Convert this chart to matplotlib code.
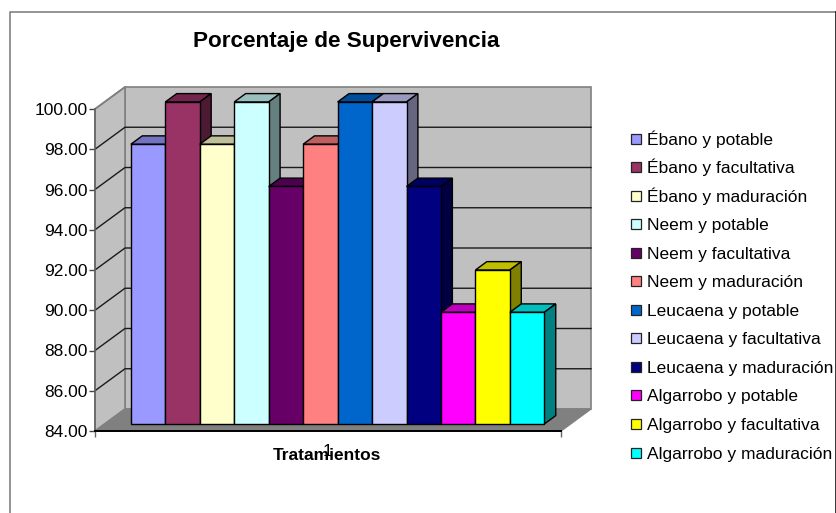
import matplotlib
matplotlib.use("Agg")
import matplotlib.pyplot as plt
from matplotlib.lines import Line2D
from matplotlib.patches import Polygon, Rectangle
from matplotlib.colors import to_rgb

plt.rcParams['font.family'] = ['Liberation Sans', 'DejaVu Sans']

treatments = ["Ébano y potable", "Ébano y facultativa", "Ébano y maduración",
              "Neem y potable", "Neem y facultativa", "Neem y maduración",
              "Leucaena y potable", "Leucaena y facultativa", "Leucaena y maduración",
              "Algarrobo y potable", "Algarrobo y facultativa", "Algarrobo y maduración"]
survival = [97.9, 100.0, 97.9, 100.0, 95.8, 97.9, 100.0, 100.0, 95.8, 89.55, 91.65, 89.55]
colors = ["#9999FF", "#993366", "#FFFFCC", "#CCFFFF", "#660066", "#FF8080",
          "#0066CC", "#CCCCFF", "#000080", "#FF00FF", "#FFFF00", "#00FFFF"]
yticks = [84, 86, 88, 90, 92, 94, 96, 98, 100]
title = "Porcentaje de Supervivencia"
xlabel = "Tratamientos"
category = "1"

W, H = 837, 513
fig = plt.figure(figsize=(W / 100, H / 100), dpi=100, facecolor="white")
L, R, T, B = 95, 561, 109, 431
ax = fig.add_axes([L / W, 1 - B / H, (R - L) / W, (B - T) / H])
ax.patch.set_visible(False)
margin = 0.762
ax.set_xlim(-margin, len(survival) + margin)
ax.set_ylim(84, 100)

px_x = (R - L) / (len(survival) + 2 * margin)
px_y = (B - T) / 16
DX = 30 / px_x   # full chart depth, data units
DY = 22 / px_y
x0, x1 = ax.get_xlim()
yb, yt = ax.get_ylim()
d_front = 0.32
d_back = 0.70


def dark(c, f):
    return tuple(v * f for v in to_rgb(c))


def poly(pts, fc, ec="black", lw=1.0, z=2):
    ax.add_patch(Polygon(pts, closed=True, facecolor=fc, edgecolor=ec, linewidth=lw,
                         zorder=z, clip_on=False, joinstyle="miter"))


# walls and floor
poly([(x0 + DX, yb + DY), (x1 + DX, yb + DY), (x1 + DX, yt + DY), (x0 + DX, yt + DY)],
     "#C0C0C0", "#808080", 1.2, 1)
poly([(x0, yb), (x0 + DX, yb + DY), (x0 + DX, yt + DY), (x0, yt)], "#C0C0C0", "#808080", 1.2, 1)
poly([(x0, yb), (x1, yb), (x1 + DX, yb + DY), (x0 + DX, yb + DY)], "#808080", "#808080", 1.0, 1.1)

# gridlines
for v in yticks[1:-1]:
    ax.plot([x0, x0 + DX, x1 + DX], [v, v + DY, v + DY], color="#1a1a1a", lw=1.0,
            zorder=1.2, clip_on=False, solid_joinstyle="miter")
ax.plot([x0, x0 + DX], [yt, yt + DY], color="#808080", lw=1.2, zorder=1.2, clip_on=False)

# bars
for i, (v, c) in enumerate(zip(survival, colors)):
    z = 2 + i * 0.01
    ox, oy = d_front * DX, d_front * DY
    dx, dy = (d_back - d_front) * DX, (d_back - d_front) * DY
    l, r = i + ox, i + 1 + ox
    b, t = yb + oy, v + oy
    ec = "#000000"
    poly([(l, t), (r, t), (r + dx, t + dy), (l + dx, t + dy)], dark(c, 0.75), ec, 1.0, z)
    poly([(r, b), (r + dx, b + dy), (r + dx, t + dy), (r, t)], dark(c, 0.5), ec, 1.0, z)
    ax.bar(i + 0.5 + ox, v - yb, width=1.0, bottom=b, color=c, edgecolor=ec,
           linewidth=1.0, zorder=z, clip_on=False)

# axes furniture
for s in ("top", "right"):
    ax.spines[s].set_visible(False)
ax.spines["left"].set_color("#666666")
ax.spines["left"].set_linewidth(1.2)
ax.spines["bottom"].set_color("black")
ax.spines["bottom"].set_linewidth(1.4)
ax.spines["bottom"].set_zorder(3)
ax.set_yticks(yticks)
ax.set_yticklabels([f"{v:.2f}" for v in yticks], fontsize=12.5, color="black")
ax.tick_params(axis="y", length=4.5, width=1, color="#444444", pad=1)
ax.set_xticks([x0, x1])
ax.set_xticklabels(["", ""])
ax.tick_params(axis="x", length=4.5, width=1, color="#666666")
ax.set_xticks([len(survival) / 2], labels=[category], minor=True)
ax.tick_params(axis="x", which="minor", length=0, labelsize=12.5, pad=9)

fig.text(327 / W, 1 - 460 / H, xlabel, fontsize=12.5, fontweight="bold", ha="center", va="baseline")
fig.text(346.5 / W, 1 - 47 / H, title, fontsize=16.2, fontweight="bold", ha="center", va="baseline")

# legend
for i, (name, c) in enumerate(zip(treatments, colors)):
    yc = 138.5 + i * 28.55
    fig.add_artist(Rectangle((631.5 / W, 1 - (yc + 5) / H), 10 / W, 10 / H, facecolor=c,
                             edgecolor="#222222", linewidth=0.9, transform=fig.transFigure))
    fig.text(647 / W, 1 - (yc + 6) / H, name, fontsize=12.5, ha="left", va="baseline")

# chart frame
fig.add_artist(Line2D([10 / W, 10 / W, 836 / W], [0, 1 - 12 / H, 1 - 12 / H],
                      color="#777777", lw=1.1, transform=fig.transFigure))
fig.add_artist(Line2D([836 / W, 836 / W], [0, 1 - 12 / H], color="black", lw=1.1,
                      transform=fig.transFigure))

fig.savefig("out.png", dpi=100)
